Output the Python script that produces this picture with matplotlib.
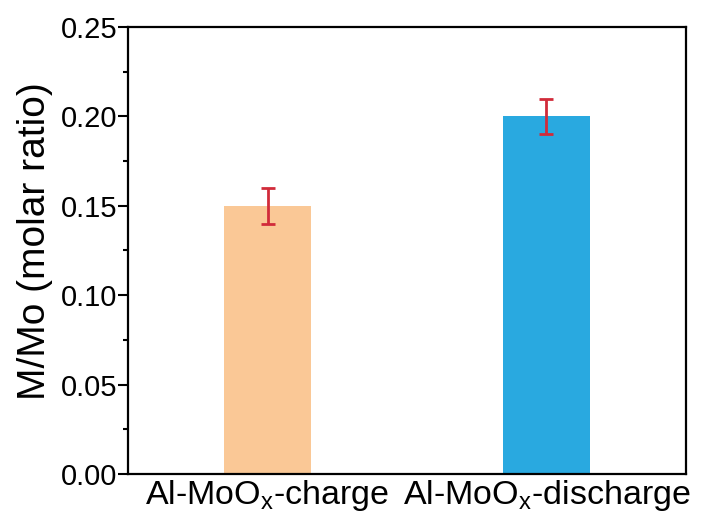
import numpy as np
import matplotlib.pyplot as plt

plt.rcParams['font.family'] = ['Liberation Sans', 'DejaVu Sans']
plt.rcParams['mathtext.fontset'] = 'custom'
plt.rcParams['mathtext.rm'] = 'Liberation Sans'

# data
categories = ['Al-MoO$_\\mathregular{x}$-charge', 'Al-MoO$_\\mathregular{x}$-discharge']
ratios = [0.15, 0.20]
errors = [0.01, 0.01]
colors = ['#FAC896', '#29A9E0']

fig = plt.figure(figsize=(7.05, 5.17), dpi=100)
ax = fig.add_axes([0.1816, 0.0832, 0.7914, 0.8646])

x = np.arange(len(categories))
ax.bar(x, ratios, width=0.31, color=colors)
ax.errorbar(x, ratios, yerr=errors, fmt='none', ecolor='#D12B3A',
            elinewidth=2, capsize=5, capthick=2)

ax.set_xlim(-0.5, 1.5)
ax.set_ylim(0, 0.25)
ax.set_xticks(x)
ax.set_xticklabels(categories, fontsize=24.5)
ax.set_yticks(np.arange(0, 0.26, 0.05))
ax.set_yticks(np.arange(0.025, 0.25, 0.05), minor=True)
ax.set_yticklabels(['%.2f' % v for v in np.arange(0, 0.26, 0.05)], fontsize=21)
ax.tick_params(axis='y', which='major', direction='out', length=7, width=1.5, pad=0.5)
ax.tick_params(axis='y', which='minor', direction='out', length=3.5, width=1.5)
ax.tick_params(axis='x', length=0, pad=3)
ax.set_ylabel('M/Mo (molar ratio)', fontsize=28)
ax.yaxis.set_label_coords(-0.135, 0.52)

for s in ax.spines.values():
    s.set_linewidth(1.6)

fig.savefig('out.png', dpi=100)
